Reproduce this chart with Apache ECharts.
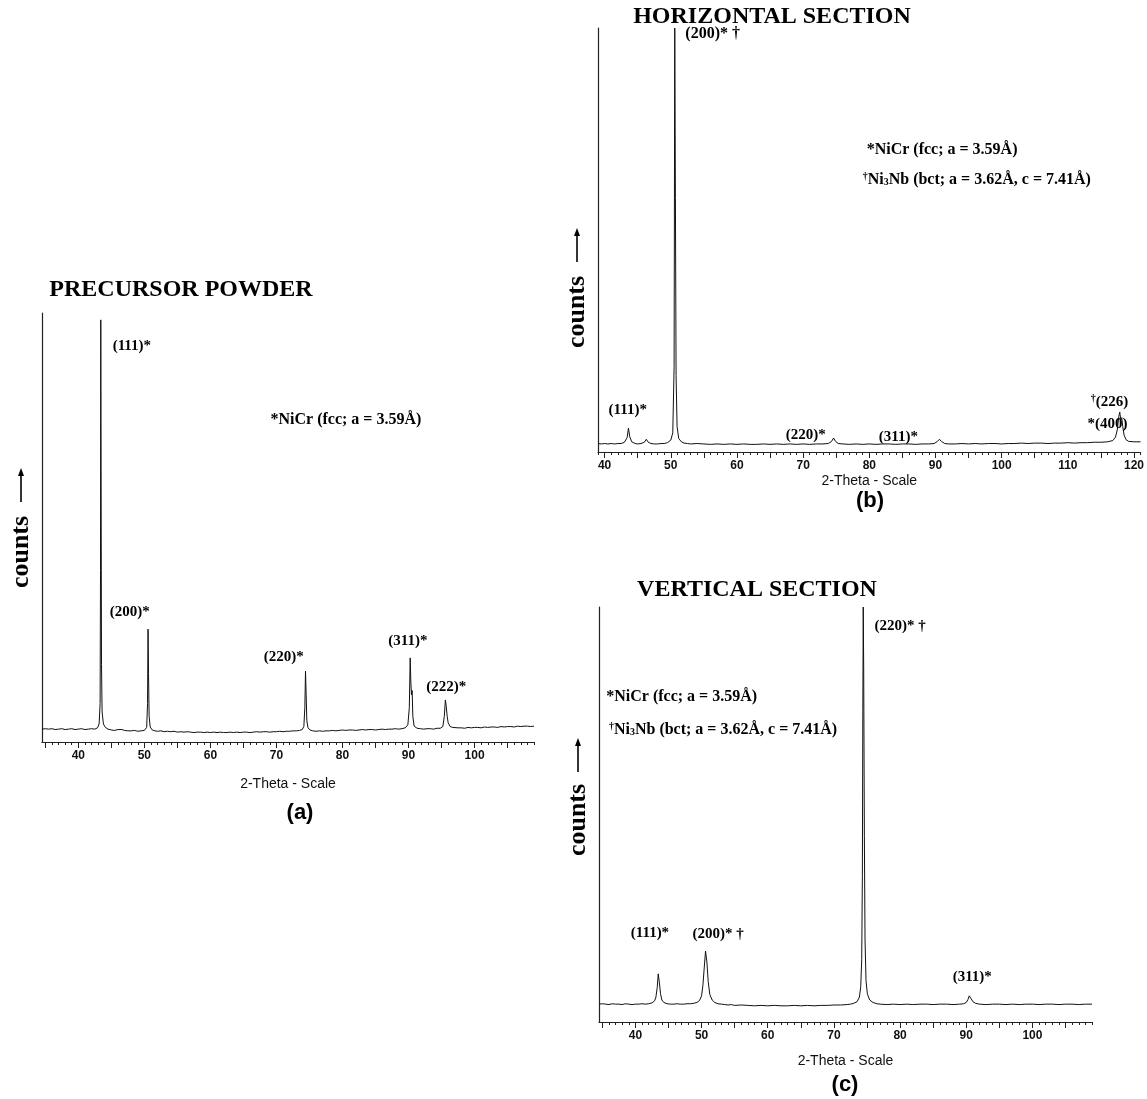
<!DOCTYPE html>
<html>
<head>
<meta charset="utf-8">
<script src="https://cdn.jsdelivr.net/npm/echarts@6/dist/echarts.min.js"></script>
<style>
  html, body { margin: 0; padding: 0; background: #fff; }
  #xrd-figure { width: 1147px; height: 1099px; }
</style>
</head>
<body>
<div id="xrd-figure"></div>
<script>
// [2-theta, counts in % of panel height]
const precursorPowder = [
  [34.5,3.0],[35,3.1],[35.5,3.0],[36,3.1],[36.5,2.9],[37,3.0],[37.5,3.1],[38,2.9],[38.5,3.0],[39,3.1],
  [39.5,2.9],[40,3.0],[40.5,3.1],[41,2.9],[41.5,3.0],[42,3.1],[42.5,3.0],[42.9,3.3],[43.15,4.2],[43.3,9],
  [43.36,40],[43.4,98.4],[43.45,60],[43.51,18],[43.6,7],[43.8,4.2],[44.1,3.4],[44.5,3.0],[45,2.8],[45.5,2.7],
  [46,2.9],[46.3,3.3],[46.6,2.9],[47,2.7],[47.5,2.6],[48,2.6],[48.5,2.7],[49,2.5],[49.5,2.6],[50,2.7],
  [50.35,3.4],[50.48,9],[50.56,26.3],[50.63,16],[50.72,6],[50.88,3.5],[51.2,2.8],[51.6,2.6],[52,2.5],[52.5,2.6],
  [53,2.4],[53.5,2.5],[54,2.4],[54.5,2.5],[55,2.3],[55.5,2.4],[56,2.3],[56.5,2.4],[57,2.3],[57.5,2.2],
  [58,2.3],[58.5,2.3],[59,2.2],[59.5,2.3],[60,2.2],[60.5,2.3],[61,2.2],[61.5,2.3],[62,2.2],[62.5,2.2],
  [63,2.3],[63.5,2.2],[64,2.3],[64.5,2.2],[65,2.3],[65.5,2.3],[66,2.2],[66.5,2.3],[67,2.4],[67.5,2.3],
  [68,2.4],[68.5,2.4],[69,2.3],[69.5,2.4],[70,2.4],[70.5,2.5],[71,2.4],[71.5,2.5],[72,2.5],[72.5,2.6],
  [73,2.6],[73.5,2.7],[73.9,2.9],[74.15,3.6],[74.3,8],[74.4,16.5],[74.5,11],[74.6,5],[74.78,3.3],[75.1,2.8],
  [75.5,2.6],[76,2.5],[76.5,2.6],[77,2.5],[77.5,2.6],[78,2.6],[78.5,2.7],[79,2.6],[79.5,2.7],[80,2.8],
  [80.5,2.7],[81,2.8],[81.5,2.8],[82,2.7],[82.5,2.8],[83,2.9],[83.5,2.8],[84,2.9],[84.5,2.9],[85,2.8],
  [85.5,2.9],[86,3.0],[86.5,2.9],[87,3.0],[87.5,3.0],[88,3.1],[88.5,3.0],[89,3.1],[89.5,3.3],[89.9,4.0],
  [90.12,8],[90.25,19.6],[90.35,14],[90.45,11],[90.55,12],[90.65,6],[90.85,3.7],[91.3,3.2],[91.8,3.1],[92.3,3.0],
  [92.8,3.1],[93.3,3.1],[93.8,3.0],[94.3,3.2],[94.8,3.2],[95.2,3.6],[95.42,6],[95.58,9.8],[95.7,8.5],[95.85,6],
  [96.0,4.5],[96.3,3.6],[96.7,3.4],[97,3.2],[97.5,3.3],[98,3.3],[98.5,3.2],[99,3.4],[99.5,3.3],[100,3.4],
  [100.5,3.4],[101,3.3],[101.5,3.5],[102,3.4],[102.5,3.5],[103,3.5],[103.5,3.4],[104,3.6],[104.5,3.5],[105,3.6],
  [105.5,3.6],[106,3.5],[106.5,3.7],[107,3.6],[107.5,3.7],[108,3.7],[108.5,3.6],[109,3.7]
];

const horizontalSection = [
  [39,2.0],[39.5,1.9],[40,2.0],[40.5,1.9],[41,2.0],[41.5,1.9],[42,2.0],[42.5,2.0],[43,2.3],[43.4,3.4],
  [43.6,5.6],[43.8,3.6],[44.1,2.4],[44.6,2.0],[45,1.9],[45.5,2.0],[46,2.3],[46.3,3.0],[46.6,2.3],[47,2.0],
  [47.5,1.9],[48,1.9],[48.5,2.0],[49,2.0],[49.5,2.2],[50,2.8],[50.3,4.5],[50.5,20],[50.6,100],[50.7,60],
  [50.8,18],[50.95,6],[51.2,3.2],[51.6,2.4],[52,2.1],[52.5,2.0],[53,1.9],[54,2.0],[55,1.9],[56,1.8],
  [57,1.9],[58,1.8],[59,1.9],[60,1.8],[61,1.9],[62,1.8],[63,1.8],[64,1.9],[65,1.8],[66,1.9],
  [67,1.8],[68,1.9],[69,1.8],[70,1.9],[71,1.8],[72,1.9],[73,1.9],[73.8,2.0],[74.3,2.5],[74.6,3.3],
  [74.9,2.5],[75.3,2.0],[76,1.9],[77,1.8],[78,1.9],[79,1.8],[80,1.9],[81,1.8],[82,1.9],[83,1.9],
  [84,1.8],[85,1.9],[86,1.9],[87,1.8],[88,1.9],[89,1.9],[89.8,2.0],[90.3,2.5],[90.6,3.0],[90.9,2.5],
  [91.4,2.0],[92,1.9],[93,1.9],[94,2.0],[95,1.9],[96,2.0],[97,1.9],[98,2.0],[99,2.0],[100,1.9],
  [101,2.0],[102,2.0],[103,2.1],[104,2.0],[105,2.1],[106,2.1],[107,2.0],[108,2.1],[109,2.1],[110,2.2],
  [111,2.1],[112,2.2],[113,2.2],[114,2.3],[115,2.3],[116,2.4],[116.8,2.7],[117.2,3.5],[117.5,5.4],[117.7,8.4],
  [117.85,9.4],[118.0,7.6],[118.15,8.1],[118.3,6.0],[118.5,4.0],[118.8,2.9],[119.2,2.5],[120,2.4],[121,2.4]
];

const verticalSection = [
  [34.5,4.3],[35,4.4],[35.5,4.3],[36,4.2],[36.5,4.4],[37,4.3],[37.5,4.3],[38,4.2],[38.5,4.4],[39,4.3],
  [39.5,4.2],[40,4.3],[40.5,4.3],[41,4.4],[41.5,4.3],[42,4.4],[42.5,4.6],[42.9,5.1],[43.1,6.0],[43.3,8.3],
  [43.45,11.6],[43.6,9.8],[43.8,6.8],[44.0,5.3],[44.3,4.7],[44.8,4.4],[45.3,4.3],[45.8,4.3],[46.3,4.4],[46.8,4.3],
  [47.3,4.3],[47.8,4.4],[48.3,4.4],[48.8,4.5],[49.3,4.7],[49.7,5.2],[50.0,6.3],[50.2,8.8],[50.4,13],[50.6,17.1],
  [50.8,14.5],[51.0,9.8],[51.25,6.6],[51.6,5.3],[52.0,4.7],[52.5,4.4],[53,4.3],[53.5,4.2],[54,4.1],[54.5,4.2],
  [55,4.0],[56,4.1],[57,4.0],[58,3.9],[59,4.0],[60,3.9],[61,4.0],[62,3.9],[63,3.9],[64,4.0],
  [65,3.9],[66,4.0],[67,3.9],[68,4.0],[69,4.0],[70,4.1],[71,4.1],[72,4.2],[72.5,4.3],[73,4.5],
  [73.5,4.9],[73.85,6.0],[74.05,8.5],[74.2,15],[74.3,35],[74.37,75],[74.43,100],[74.5,85],[74.6,45],[74.7,20],
  [74.85,10],[75.05,6.8],[75.4,5.3],[75.9,4.7],[76.5,4.4],[77,4.3],[78,4.2],[79,4.3],[80,4.2],[81,4.3],
  [82,4.2],[83,4.3],[84,4.3],[85,4.2],[86,4.3],[87,4.3],[88,4.2],[89,4.3],[89.6,4.4],[90,4.7],
  [90.25,5.4],[90.45,6.3],[90.7,5.7],[91.0,4.9],[91.4,4.5],[92,4.3],[93,4.2],[94,4.3],[95,4.3],[96,4.2],
  [97,4.3],[98,4.2],[99,4.3],[100,4.3],[101,4.2],[102,4.3],[103,4.3],[104,4.2],[105,4.3],[106,4.3],
  [107,4.2],[108,4.3],[109,4.3]
];

// peak and phase notes: [2-theta, counts, text, anchor]
const notesA = [
  [48.1, 92.2, '(111)*', 'c'],
  [47.8, 30.3, '(200)*', 'c'],
  [71.1, 19.9, '(220)*', 'c'],
  [89.9, 23.4, '(311)*', 'c'],
  [95.7, 12.9, '(222)*', 'c'],
  [69.1, 75.1, '*NiCr (fcc; a = 3.59Å)', 'l']
];
const notesB = [
  [52.2, 98.6, '(200)* †', 'l'],
  [43.5, 9.9, '(111)*', 'c'],
  [70.4, 3.9, '(220)*', 'c'],
  [84.4, 3.6, '(311)*', 'c'],
  [116.3, 11.8, '{sup|†}(226)', 'c'],
  [116.0, 6.6, '*(400)', 'c'],
  [79.6, 71.2, '*NiCr (fcc; a = 3.59Å)', 'l'],
  [79.0, 64.2, '{sup|†}Ni{sub|3}Nb (bct; a = 3.62Å, c = 7.41Å)', 'l']
];
const notesC = [
  [80.0, 95.3, '(220)* †', 'c'],
  [42.2, 21.4, '(111)*', 'c'],
  [52.5, 21.1, '(200)* †', 'c'],
  [90.9, 10.9, '(311)*', 'c'],
  [35.6, 78.4, '*NiCr (fcc; a = 3.59Å)', 'l'],
  [36.0, 70.4, '{sup|†}Ni{sub|3}Nb (bct; a = 3.62Å, c = 7.41Å)', 'l']
];

const tickLabelsA = [40, 50, 60, 70, 80, 90, 100];
const tickLabelsB = [40, 50, 60, 70, 80, 90, 100, 110, 120];
const tickLabelsC = [40, 50, 60, 70, 80, 90, 100];

function seq(a, b, step) {
  const out = [];
  for (let v = a; v <= b + 1e-9; v += step) out.push(v);
  return out;
}

const SERIF = '"Liberation Serif", "DejaVu Serif", serif';
const SANS = '"Liberation Sans", Arial, sans-serif';

const panels = [
  { grid: { left: 42, top: 313, width: 492, height: 429 }, min: 34.5, max: 109, nameGap: 35,
    labels: tickLabelsA, data: precursorPowder, notes: notesA },
  { grid: { left: 598, top: 28, width: 545, height: 424 }, min: 39, max: 121, nameGap: 22,
    labels: tickLabelsB, data: horizontalSection, notes: notesB },
  { grid: { left: 599, top: 607, width: 493, height: 415 }, min: 34.5, max: 109, nameGap: 32,
    labels: tickLabelsC, data: verticalSection, notes: notesC }
];

const richText = {
  sup: { fontSize: 10, fontFamily: SERIF, fontWeight: 'bold', color: '#000', padding: [0, 0, 7, 0] },
  sub: { fontSize: 10, fontFamily: SERIF, fontWeight: 'bold', color: '#000', padding: [6, 0, 0, 0] }
};

const xAxes = [];
const yAxes = [];
const series = [];

panels.forEach((p, i) => {
  xAxes.push({
    gridIndex: i, type: 'value', min: p.min, max: p.max,
    axisLine: { onZero: false, lineStyle: { color: '#222', width: 1.2 } },
    axisTick: { customValues: seq(Math.ceil(p.min), Math.floor(p.max), 1), length: 3, lineStyle: { color: '#222' } },
    axisLabel: { customValues: p.labels, fontFamily: SANS, fontWeight: 'bold', fontSize: 12, color: '#111', margin: 8 },
    splitLine: { show: false },
    name: '2-Theta - Scale', nameLocation: 'middle', nameGap: p.nameGap,
    nameTextStyle: { fontFamily: SANS, fontSize: 14, color: '#111' }
  });
  xAxes.push({
    gridIndex: i, type: 'value', min: p.min, max: p.max, position: 'bottom',
    axisLine: { show: false, onZero: false },
    axisTick: { customValues: seq(Math.ceil(p.min / 5) * 5, p.max, 5), length: 6, lineStyle: { color: '#222' } },
    axisLabel: { show: false },
    splitLine: { show: false }
  });
  yAxes.push({
    gridIndex: i, type: 'value', min: 0, max: 100,
    axisLine: { show: true, onZero: false, lineStyle: { color: '#222', width: 1.2 } },
    axisTick: { show: false }, axisLabel: { show: false }, splitLine: { show: false }
  });
  series.push({
    type: 'line', xAxisIndex: 2 * i, yAxisIndex: i, data: p.data,
    showSymbol: false, symbol: 'none',
    lineStyle: { color: '#111', width: 1 }
  });
  series.push({
    type: 'scatter', xAxisIndex: 2 * i, yAxisIndex: i, clip: false,
    symbolSize: 0, itemStyle: { color: '#fff', opacity: 1 }, silent: true,
    data: p.notes.map(n => ({
      value: [n[0], n[1]],
      label: {
        show: true, formatter: n[2],
        position: n[3] === 'l' ? 'right' : 'inside', distance: 0,
        fontFamily: SERIF, fontWeight: 'bold', fontSize: n[3] === 'l' ? 16 : 15, color: '#000',
        textBorderWidth: 0, rich: richText
      }
    }))
  });
});

function textEl(x, y, text, font, extra) {
  return Object.assign({
    type: 'text', x: x, y: y,
    style: { text: text, font: font, fill: '#000', textAlign: 'center', textVerticalAlign: 'middle',
             align: 'center', verticalAlign: 'middle' }
  }, extra || {});
}

// "counts" axis title with an upward arrow above it
function countsLabel(x, yText, yArrowBottom) {
  const top = yArrowBottom - 34;
  return [
    textEl(x, yText, 'counts', 'bold 26px ' + SERIF, { rotation: Math.PI / 2 }),
    { type: 'line', shape: { x1: x, y1: yArrowBottom, x2: x, y2: top + 4 }, style: { stroke: '#000', lineWidth: 1.6 } },
    { type: 'polygon', shape: { points: [[x, top], [x - 3, top + 8], [x + 3, top + 8]] }, style: { fill: '#000' } }
  ];
}

const option = {
  backgroundColor: '#fff',
  animation: false,
  grid: panels.map(p => p.grid),
  xAxis: xAxes,
  yAxis: yAxes,
  series: series,
  graphic: [
    textEl(181, 290, 'PRECURSOR POWDER', 'bold 24px ' + SERIF),
    textEl(772, 17, 'HORIZONTAL SECTION', 'bold 24px ' + SERIF),
    textEl(757, 590, 'VERTICAL SECTION', 'bold 24px ' + SERIF),
    ...countsLabel(21, 552, 502),
    ...countsLabel(577, 312, 262),
    ...countsLabel(578, 820, 772),
    textEl(300, 813, '(a)', 'bold 22px ' + SANS),
    textEl(870, 501, '(b)', 'bold 22px ' + SANS),
    textEl(845, 1085, '(c)', 'bold 22px ' + SANS)
  ]
};

const myChart = echarts.init(document.getElementById('xrd-figure'));
myChart.setOption(option);
</script>
</body>
</html>
